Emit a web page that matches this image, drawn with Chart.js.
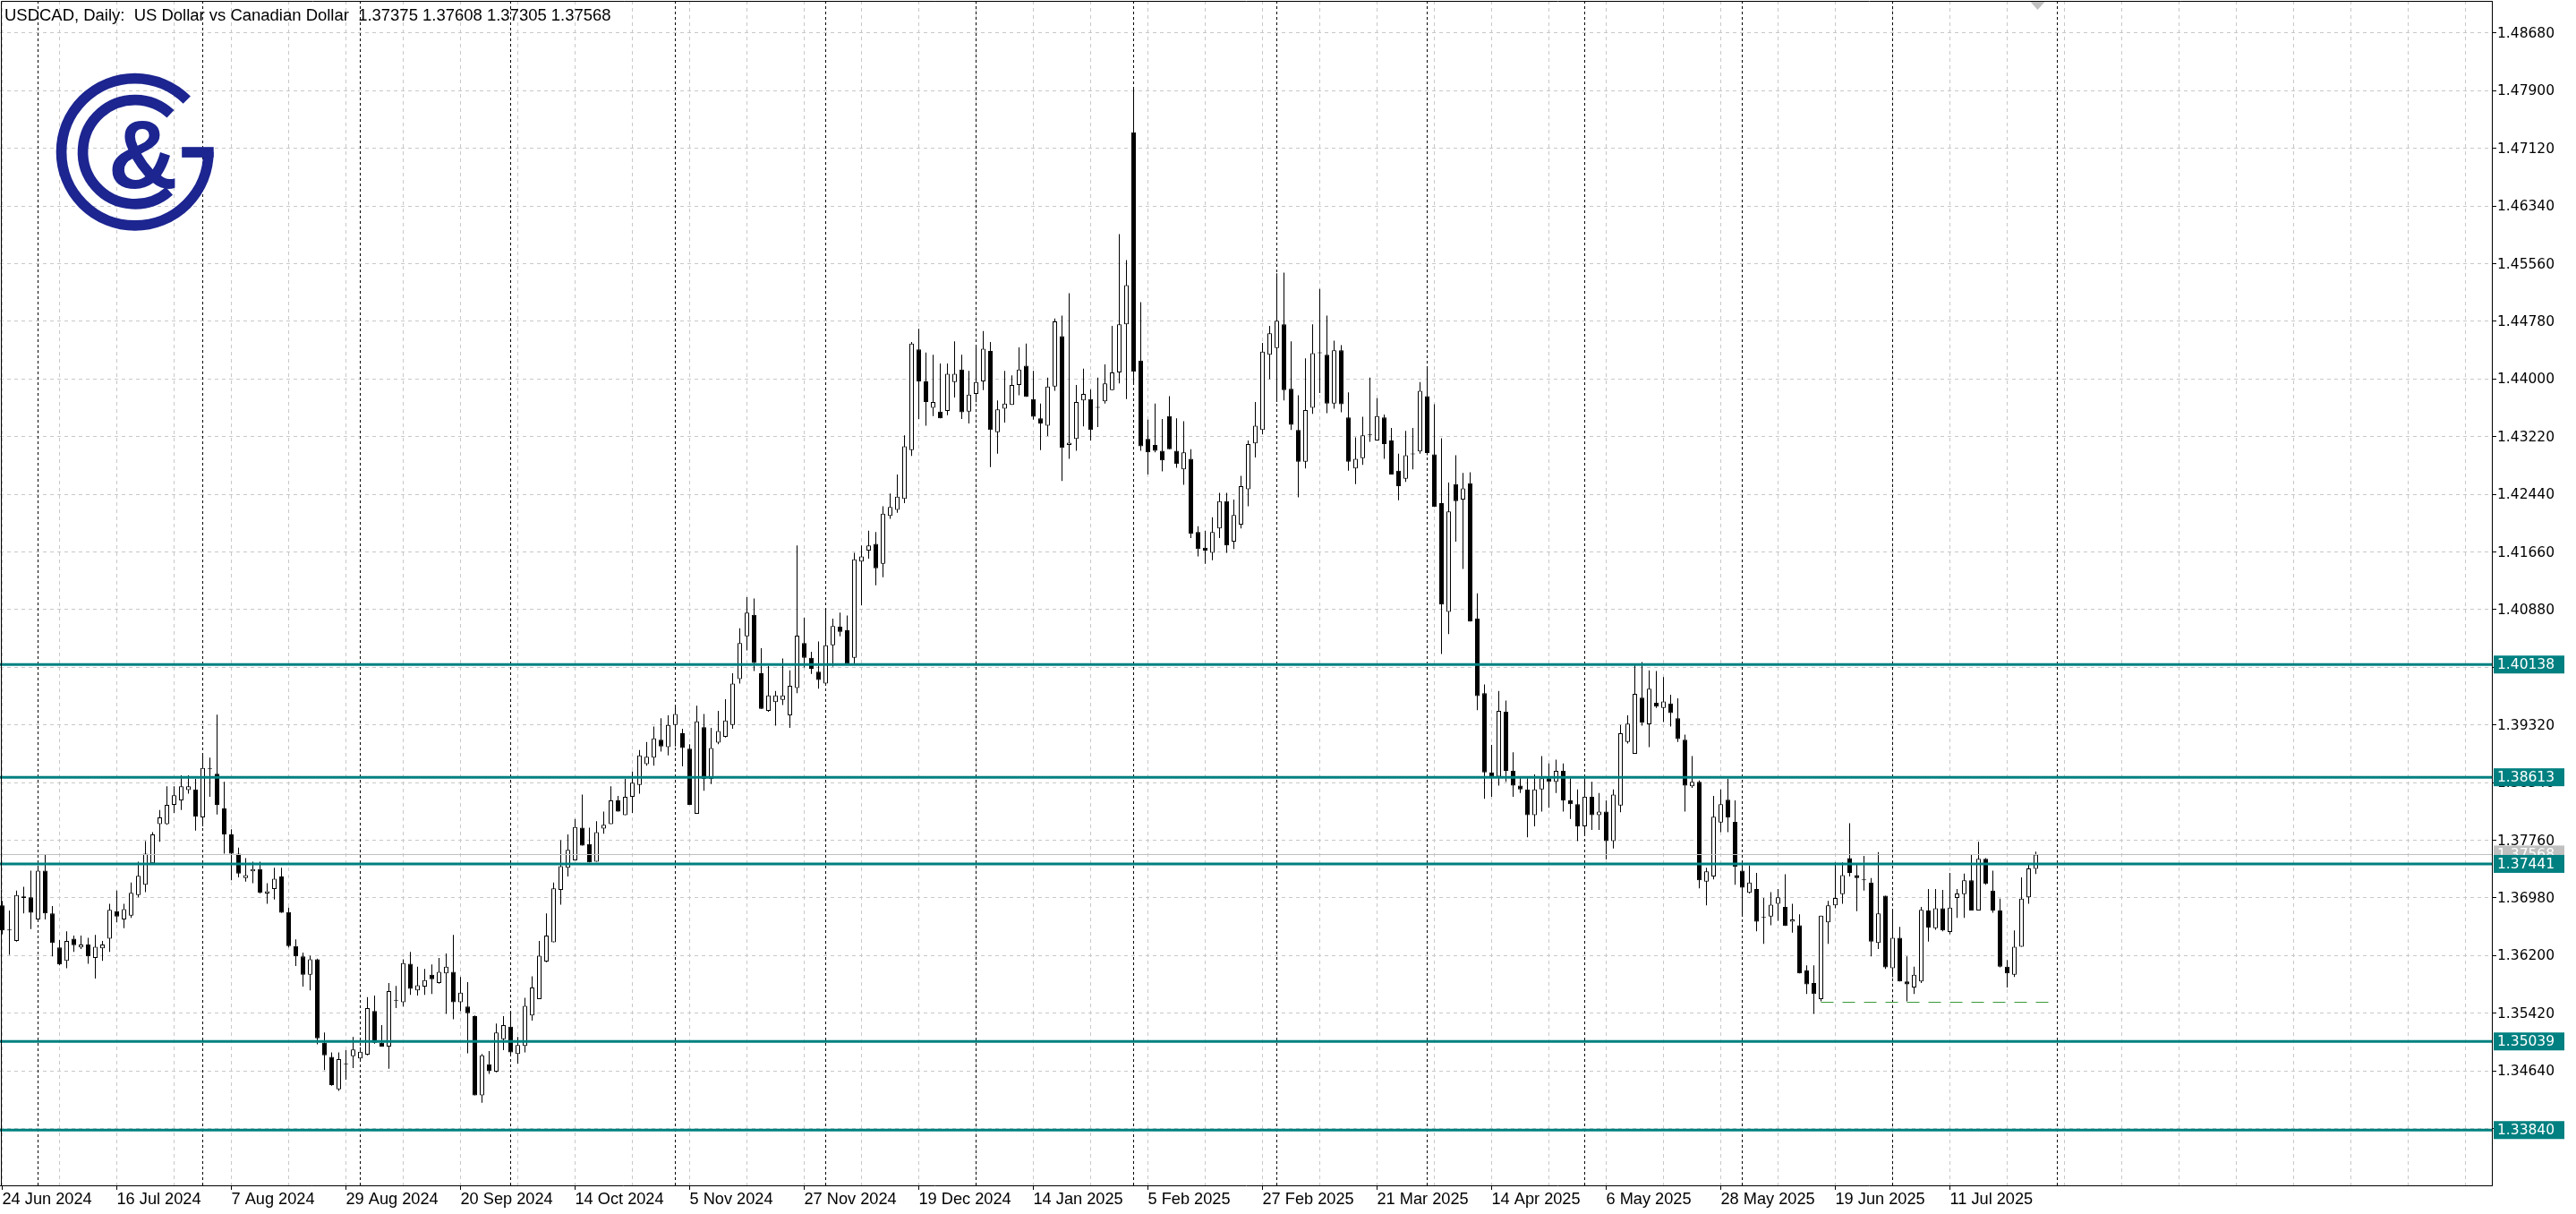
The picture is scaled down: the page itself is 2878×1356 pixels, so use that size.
<!DOCTYPE html>
<html><head><meta charset="utf-8">
<script src="https://cdn.jsdelivr.net/npm/chart.js@4.4.0/dist/chart.umd.min.js"></script>
<style>html,body{margin:0;padding:0;background:#fff;overflow:hidden}canvas{display:block}</style>
</head><body>
<canvas id="c" width="2878" height="1356"></canvas>
<script>
// ---------- DATA ----------
const symbolTitle = 'USDCAD, Daily:  US Dollar vs Canadian Dollar';
const dateLabels = ['24 Jun 2024','16 Jul 2024','7 Aug 2024','29 Aug 2024','20 Sep 2024','14 Oct 2024','5 Nov 2024','27 Nov 2024','19 Dec 2024','14 Jan 2025','5 Feb 2025','27 Feb 2025','21 Mar 2025','14 Apr 2025','6 May 2025','28 May 2025','19 Jun 2025','11 Jul 2025'];
const monthStartBars = [5,28,50,71,94,115,136,158,178,199,221,243,264,287];
const priceTicks = [1.33860,1.34640,1.35420,1.36200,1.36980,1.37760,1.38540,1.39320,1.40100,1.40880,1.41660,1.42440,1.43220,1.44000,1.44780,1.45560,1.46340,1.47120,1.47900,1.48680];
const levels = [1.40138,1.38613,1.37441,1.35039,1.33840];
const lastPrice = 1.37568;
const supportPrice = 1.35575, supportFrom = 254, supportTo = 286;

const open = [1.3688,1.3654,1.3640,1.3698,1.3699,1.3669,1.3735,1.3677,1.3631,1.3613,1.3643,1.3631,1.3635,1.3617,1.3630,1.3643,1.3680,1.3669,1.3674,1.3702,1.3716,1.3745,1.3798,1.3798,1.3824,1.3830,1.3844,1.3845,1.3807,1.3873,1.3866,1.3819,1.3784,1.3758,1.3725,1.3734,1.3737,1.3704,1.3710,1.3727,1.3679,1.3633,1.3619,1.3594,1.3615,1.3502,1.3483,1.3439,1.3473,1.3484,1.3481,1.3486,1.3545,1.3502,1.3497,1.3559,1.3557,1.3609,1.3573,1.3578,1.3594,1.3583,1.3596,1.3598,1.3557,1.3551,1.3538,1.3431,1.3473,1.3463,1.3507,1.3524,1.3487,1.3498,1.3539,1.3561,1.3612,1.3638,1.3709,1.3739,1.3749,1.3793,1.3771,1.3747,1.3792,1.3798,1.3830,1.3810,1.3835,1.3851,1.3879,1.3888,1.3912,1.3902,1.3932,1.3921,1.3900,1.3812,1.3929,1.3859,1.3908,1.3916,1.3932,1.3994,1.4052,1.4081,1.4002,1.3951,1.3963,1.3966,1.3945,1.3982,1.4043,1.4023,1.4004,1.3988,1.4040,1.4065,1.4060,1.4023,1.4153,1.4168,1.4177,1.4150,1.4215,1.4223,1.4238,1.4304,1.4440,1.4397,1.4361,1.4356,1.4357,1.4396,1.4413,1.4356,1.4380,1.4397,1.4438,1.4328,1.4360,1.4365,1.4392,1.4418,1.4373,1.4347,1.4337,1.4390,1.4458,1.4311,1.4319,1.4371,1.4373,1.4361,1.4370,1.4385,1.4409,1.4474,1.4734,1.4425,1.4319,1.4311,1.4303,1.4350,1.4303,1.4278,1.4292,1.4193,1.4172,1.4165,1.4198,1.4235,1.4180,1.4203,1.4251,1.4313,1.4331,1.4433,1.4442,1.4474,1.4387,1.4331,1.4288,1.4361,1.4435,1.4433,1.4367,1.4439,1.4348,1.4279,1.4293,1.4324,1.4317,1.4348,1.4317,1.4276,1.4265,1.4298,1.4302,1.4377,1.4298,1.4232,1.4085,1.4258,1.4237,1.4259,1.4076,1.3975,1.3868,1.3862,1.3950,1.3870,1.3850,1.3845,1.3810,1.3845,1.3860,1.3855,1.3870,1.3830,1.3825,1.3795,1.3835,1.3810,1.3815,1.3775,1.3823,1.3909,1.3893,1.3969,1.3933,1.3962,1.3955,1.3961,1.3941,1.3912,1.3849,1.3855,1.3720,1.3727,1.3800,1.3831,1.3801,1.3735,1.3705,1.3710,1.3671,1.3673,1.3690,1.3686,1.3666,1.3661,1.3600,1.3583,1.3561,1.3665,1.3688,1.3703,1.3752,1.3729,1.3723,1.3719,1.3637,1.3701,1.3603,1.3644,1.3585,1.3577,1.3585,1.3681,1.3657,1.3684,1.3652,1.3698,1.3703,1.3722,1.3681,1.3751,1.3708,1.3681,1.3605,1.3594,1.3632,1.3699,1.37375];
const high = [1.3694,1.3681,1.3708,1.3713,1.3735,1.3742,1.3756,1.3687,1.3641,1.3653,1.3647,1.3647,1.3644,1.3648,1.3640,1.3690,1.3708,1.3690,1.3719,1.3747,1.3775,1.3787,1.3817,1.3849,1.3849,1.3864,1.3864,1.3859,1.3892,1.3888,1.3946,1.3855,1.3791,1.3766,1.3752,1.3747,1.3747,1.3718,1.3739,1.3739,1.3685,1.3642,1.3624,1.3620,1.3616,1.3516,1.3489,1.3489,1.3492,1.3510,1.3496,1.3564,1.3566,1.3526,1.3583,1.3579,1.3615,1.3625,1.3605,1.3602,1.3608,1.3617,1.3623,1.3648,1.3591,1.3584,1.3539,1.3487,1.3491,1.3528,1.3538,1.3543,1.3510,1.3563,1.3592,1.3640,1.3677,1.3719,1.3776,1.3784,1.3805,1.3838,1.3793,1.3802,1.3815,1.3849,1.3836,1.3859,1.3869,1.3898,1.3909,1.3930,1.3941,1.3945,1.3958,1.3927,1.3906,1.3958,1.3947,1.3928,1.3951,1.3967,1.4002,1.4063,1.4105,1.4103,1.4036,1.4012,1.3978,1.4022,1.4006,1.4175,1.4077,1.4031,1.4045,1.4090,1.4076,1.4084,1.4080,1.4165,1.4175,1.4195,1.4193,1.4228,1.4245,1.4271,1.4324,1.4450,1.4468,1.4436,1.4433,1.4421,1.4421,1.4451,1.4433,1.4411,1.4446,1.4465,1.4450,1.4371,1.4411,1.4405,1.4443,1.4448,1.4411,1.4367,1.4402,1.4482,1.4486,1.4516,1.4392,1.4414,1.4386,1.4402,1.4420,1.4472,1.4596,1.4561,1.4795,1.4504,1.4345,1.4367,1.4346,1.4377,1.4347,1.4343,1.4305,1.4201,1.4195,1.4213,1.4246,1.4246,1.4237,1.4269,1.4317,1.4369,1.4449,1.4472,1.4543,1.4544,1.4451,1.4378,1.4428,1.4474,1.4522,1.4486,1.4452,1.4446,1.4382,1.4321,1.4349,1.4402,1.4374,1.4352,1.4334,1.4299,1.4330,1.4334,1.4396,1.4416,1.4366,1.4320,1.4260,1.4297,1.4273,1.4274,1.4110,1.3987,1.3905,1.3978,1.3965,1.3895,1.3862,1.3860,1.3865,1.3890,1.3880,1.3885,1.3880,1.3860,1.3845,1.3860,1.3855,1.3840,1.3830,1.3845,1.3932,1.3945,1.4013,1.4017,1.4006,1.4005,1.3997,1.3973,1.3968,1.3919,1.3890,1.3857,1.3739,1.3836,1.3845,1.3859,1.3830,1.3746,1.3742,1.3732,1.3698,1.3706,1.3710,1.3730,1.3690,1.3676,1.3607,1.3607,1.3674,1.3694,1.3746,1.3746,1.3799,1.3744,1.3755,1.3725,1.3760,1.3701,1.3680,1.3659,1.3619,1.3605,1.3686,1.3710,1.3710,1.3709,1.3732,1.3710,1.3731,1.3756,1.3774,1.3752,1.3735,1.3697,1.3614,1.3654,1.3726,1.3744,1.37608];
const low = [1.3649,1.3621,1.3639,1.3677,1.3656,1.3668,1.3669,1.3619,1.3607,1.3603,1.3625,1.3629,1.3609,1.3589,1.3613,1.3625,1.3665,1.3657,1.3671,1.3699,1.3706,1.3745,1.3774,1.3797,1.3813,1.3817,1.3839,1.3789,1.3795,1.3835,1.3811,1.3758,1.3722,1.3726,1.3720,1.3718,1.3704,1.3690,1.3696,1.3678,1.3631,1.3606,1.3578,1.3573,1.3500,1.3465,1.3444,1.3437,1.3452,1.3468,1.3479,1.3485,1.3501,1.3497,1.3467,1.3549,1.3551,1.3567,1.3566,1.3567,1.3568,1.3582,1.3541,1.3534,1.3545,1.3488,1.3431,1.3421,1.3460,1.3462,1.3492,1.3484,1.3474,1.3489,1.3532,1.3561,1.3611,1.3638,1.3689,1.3727,1.3749,1.3769,1.3746,1.3747,1.3785,1.3798,1.3815,1.3810,1.3813,1.3839,1.3877,1.3877,1.3896,1.3891,1.3903,1.3876,1.3824,1.3812,1.3843,1.3852,1.3906,1.3915,1.3927,1.3988,1.4033,1.4005,1.3954,1.3950,1.3931,1.3959,1.3928,1.3975,1.4010,1.4001,1.3981,1.3988,1.4011,1.4052,1.4013,1.4015,1.4094,1.4157,1.4121,1.4132,1.4211,1.4219,1.4232,1.4296,1.4346,1.4337,1.4350,1.4347,1.4351,1.4375,1.4346,1.4340,1.4369,1.4385,1.4281,1.4299,1.4341,1.4365,1.4378,1.4376,1.4345,1.4304,1.4323,1.4384,1.4262,1.4292,1.4303,1.4336,1.4317,1.4335,1.4367,1.4385,1.4394,1.4373,1.4392,1.4303,1.4271,1.4301,1.4275,1.4305,1.4280,1.4257,1.4185,1.4160,1.4150,1.4155,1.4185,1.4165,1.4170,1.4198,1.4228,1.4294,1.4325,1.4400,1.4369,1.4371,1.4331,1.4240,1.4279,1.4353,1.4381,1.4354,1.4360,1.4355,1.4276,1.4258,1.4284,1.4315,1.4317,1.4292,1.4271,1.4236,1.4261,1.4278,1.4299,1.4297,1.4227,1.4028,1.4055,1.4180,1.4143,1.4072,1.3952,1.3832,1.3835,1.3850,1.3855,1.3835,1.3840,1.3780,1.3795,1.3815,1.3820,1.3840,1.3815,1.3805,1.3775,1.3785,1.3790,1.3790,1.3750,1.3765,1.3814,1.3907,1.3893,1.3931,1.3902,1.3955,1.3936,1.3930,1.3909,1.3815,1.3847,1.3711,1.3688,1.3723,1.3787,1.3787,1.3716,1.3676,1.3704,1.3653,1.3636,1.3661,1.3667,1.3660,1.3651,1.3596,1.3568,1.3541,1.3558,1.3636,1.3684,1.3690,1.3727,1.3680,1.3708,1.3619,1.3629,1.3602,1.3591,1.3585,1.3558,1.3568,1.3583,1.3639,1.3655,1.3653,1.3649,1.3671,1.3671,1.3681,1.3681,1.3716,1.3678,1.3604,1.3577,1.3591,1.3632,1.3690,1.37305];
const close = [1.3654,1.3655,1.3702,1.3700,1.3678,1.3735,1.3677,1.3637,1.3608,1.3640,1.3634,1.3635,1.3619,1.3632,1.3635,1.3682,1.3673,1.3683,1.3705,1.3728,1.3758,1.3784,1.3807,1.3824,1.3837,1.3849,1.3849,1.3808,1.3874,1.3872,1.3824,1.3784,1.3758,1.3731,1.3729,1.3737,1.3705,1.3707,1.3724,1.3678,1.3633,1.3619,1.3594,1.3615,1.3508,1.3485,1.3445,1.3480,1.3474,1.3493,1.3490,1.3549,1.3502,1.3497,1.3572,1.3559,1.3610,1.3575,1.3580,1.3587,1.3588,1.3598,1.3605,1.3557,1.3570,1.3542,1.3431,1.3485,1.3464,1.3516,1.3526,1.3489,1.3499,1.3552,1.3577,1.3620,1.3647,1.3711,1.3741,1.3763,1.3794,1.3769,1.3746,1.3787,1.3797,1.3830,1.3815,1.3835,1.3854,1.3891,1.3889,1.3914,1.3903,1.3932,1.3947,1.3901,1.3824,1.3937,1.3859,1.3901,1.3924,1.3938,1.3988,1.4043,1.4084,1.4016,1.3954,1.3972,1.3972,1.3972,1.3985,1.4053,1.4023,1.4008,1.3993,1.4040,1.4066,1.4058,1.4015,1.4156,1.4160,1.4175,1.4144,1.4218,1.4227,1.4241,1.4309,1.4448,1.4397,1.4369,1.4369,1.4347,1.4407,1.4407,1.4355,1.4379,1.4396,1.4441,1.4331,1.4359,1.4367,1.4392,1.4413,1.4376,1.4349,1.4340,1.4390,1.4478,1.4307,1.4314,1.4369,1.4380,1.4331,1.4362,1.4394,1.4409,1.4474,1.4527,1.4410,1.4309,1.4301,1.4303,1.4290,1.4305,1.4285,1.4301,1.4191,1.4170,1.4168,1.4193,1.4235,1.4175,1.4216,1.4255,1.4312,1.4337,1.4437,1.4462,1.4479,1.4385,1.4338,1.4288,1.4358,1.4435,1.4435,1.4367,1.4439,1.4366,1.4288,1.4292,1.4324,1.4324,1.4350,1.4312,1.4271,1.4255,1.4297,1.4298,1.4384,1.4300,1.4227,1.4095,1.4221,1.4235,1.4252,1.4072,1.3971,1.3868,1.3862,1.3951,1.3870,1.3850,1.3845,1.3810,1.3845,1.3860,1.3855,1.3870,1.3830,1.3825,1.3795,1.3835,1.3810,1.3815,1.3775,1.3838,1.3921,1.3934,1.3974,1.3935,1.3981,1.3957,1.3964,1.3948,1.3913,1.3850,1.3855,1.3722,1.3734,1.3808,1.3825,1.3807,1.3740,1.3712,1.3719,1.3666,1.3672,1.3689,1.3699,1.3660,1.3669,1.3596,1.3581,1.3568,1.3674,1.3688,1.3698,1.3729,1.3732,1.3725,1.3722,1.3639,1.3677,1.3604,1.3644,1.3585,1.3581,1.3594,1.3682,1.3658,1.3684,1.3654,1.3685,1.3704,1.3722,1.3681,1.3751,1.3717,1.3681,1.3605,1.3596,1.3632,1.3697,1.3738,1.37568];

// ---------- STYLE ----------
const TEAL = '#008080', GRID = '#c8c8c8', LOGO = '#1c2590';
const PRICE_FONT = '15.5px "DejaVu Sans"';
const measureCtx = document.createElement('canvas').getContext('2d');
function fitSize(text, family, target) { measureCtx.font = '100px "' + family + '"'; return 100 * target / measureCtx.measureText(text).width; }
const X_FONT_SIZE = Math.round(fitSize(dateLabels[0], 'Liberation Sans', 100) * 10) / 10;

const barIdx = open.map((_, i) => i);
const gridBars = []; for (let v = 0; v <= 344; v += 8) gridBars.push(v);

const bodies = barIdx.map(i => ({x: i, y: [open[i], close[i]]}));
const wicks  = barIdx.map(i => ({x: i, y: [low[i], high[i]]}));
const bodyFill = barIdx.map(i => close[i] >= open[i] ? '#ffffff' : '#000000');

const bgPlugin = { id: 'bg', beforeDraw(c) { const x = c.ctx; x.save(); x.fillStyle = '#fff'; x.fillRect(0, 0, c.width, c.height); x.restore(); } };

const separators = { id: 'sep', beforeDatasetsDraw(c) {
  const {ctx, chartArea: a, scales: {x}} = c; ctx.save(); ctx.strokeStyle = '#000'; ctx.lineWidth = 1; ctx.setLineDash([3, 3]);
  monthStartBars.forEach(b => { const px = Math.round(x.getPixelForValue(b) - 0.5) + 0.5; if (px > a.right) return; ctx.beginPath(); ctx.moveTo(px, a.top); ctx.lineTo(px, a.bottom); ctx.stroke(); });
  ctx.restore(); } };

const overlays = { id: 'ovl', afterDatasetsDraw(c) {
  const {ctx, chartArea: a, scales: {x, y}} = c; ctx.save();
  ctx.strokeStyle = '#c0c0c0'; ctx.lineWidth = 1;
  let py = Math.round(y.getPixelForValue(lastPrice)) + 0.5; ctx.beginPath(); ctx.moveTo(a.left, py); ctx.lineTo(a.right, py); ctx.stroke();
  ctx.strokeStyle = '#3a9a3a'; ctx.setLineDash([14, 10]);
  py = Math.round(y.getPixelForValue(supportPrice)) + 0.5;
  ctx.beginPath(); ctx.moveTo(x.getPixelForValue(supportFrom), py); ctx.lineTo(x.getPixelForValue(supportTo), py); ctx.stroke();
  ctx.setLineDash([]);
  ctx.strokeStyle = TEAL; ctx.lineWidth = 3;
  levels.forEach(l => { const ly = y.getPixelForValue(l); ctx.beginPath(); ctx.moveTo(a.left, ly); ctx.lineTo(a.right, ly); ctx.stroke(); });
  ctx.restore(); } };

const axisBoxes = { id: 'boxes', afterDraw(c) {
  const {ctx, chartArea: a, scales: {y}} = c; ctx.save(); ctx.font = PRICE_FONT; ctx.textBaseline = 'middle'; ctx.textAlign = 'left';
  const box = (val, bg) => { const py = y.getPixelForValue(val); ctx.fillStyle = bg; ctx.fillRect(a.right + 2, py - 10, 79, 20); ctx.fillStyle = '#fff'; ctx.fillText(val.toFixed(5), a.right + 6, py + 1); };
  box(lastPrice, '#c0c0c0');
  levels.forEach(l => box(l, TEAL));
  ctx.strokeStyle = '#000'; ctx.lineWidth = 1;
  ctx.beginPath(); ctx.moveTo(1.5, a.bottom); ctx.lineTo(1.5, a.top + 0.5); ctx.lineTo(a.right, a.top + 0.5); ctx.stroke();
  const n = open.length - 1;
  const header = symbolTitle + '  ' + [open[n], high[n], low[n], close[n]].map(v => v.toFixed(5)).join(' ');
  const fs = fitSize(header, 'Liberation Sans', 678);
  ctx.font = fs.toFixed(2) + 'px "Liberation Sans"'; ctx.fillStyle = '#000'; ctx.textBaseline = 'alphabetic'; ctx.fillText(header, 5, 23);
  const sx = c.scales.x.getPixelForValue(n) + 2; ctx.fillStyle = '#c0c0c0';
  ctx.beginPath(); ctx.moveTo(sx - 8, a.top + 1); ctx.lineTo(sx + 8, a.top + 1); ctx.lineTo(sx, a.top + 10); ctx.closePath(); ctx.fill();
  const cx = 150.7, cy = 169.7; ctx.strokeStyle = LOGO; ctx.fillStyle = LOGO; ctx.lineWidth = 11.7; ctx.lineCap = 'butt';
  ctx.beginPath(); ctx.arc(cx, cy, 82.15, 0, Math.PI * 1.75); ctx.stroke();
  ctx.fillRect(cx + 52.5, cy - 5.5, 35.5, 11.7);
  ctx.beginPath(); ctx.arc(cx, cy, 58.15, Math.PI * 0.27, Math.PI * 1.74); ctx.stroke();
  ctx.font = 'bold 108px "Liberation Sans"'; ctx.textAlign = 'center'; ctx.fillText('&', cx + 9, cy + 40);
  ctx.restore(); } };

new Chart(document.getElementById('c'), {
  type: 'bar',
  data: { datasets: [
    { label: 'body', data: bodies, backgroundColor: bodyFill, borderColor: '#000', borderWidth: 1, borderSkipped: false,
      barThickness: 5, grouped: false, minBarLength: 1, inflateAmount: 0, order: 0 },
    { label: 'wick', data: wicks, backgroundColor: '#000', borderWidth: 0, barThickness: 1, grouped: false, inflateAmount: 0, order: 1 }
  ]},
  options: {
    responsive: false, animation: false, events: [],
    layout: { padding: { top: 1, left: 0, right: 0, bottom: 0 } },
    plugins: { legend: { display: false }, tooltip: { enabled: false }, title: { display: false } },
    scales: {
      x: { type: 'linear', min: -0.3125, max: 347.6875, offset: false,
        grid: { offset: false, color: GRID, lineWidth: 1, drawTicks: true, tickLength: 5, tickWidth: 1,
          tickColor: c => (c.tick && c.tick.value % 16 === 0 && c.tick.value / 16 < dateLabels.length) ? '#000' : 'rgba(0,0,0,0)' },
        border: { display: true, color: '#000', width: 1, dash: [4, 4] },
        ticks: { autoSkip: false, maxRotation: 0, minRotation: 0, align: 'start', padding: 0, color: '#000',
          font: { family: 'Liberation Sans', size: X_FONT_SIZE },
          callback: v => (v % 16 === 0 && v / 16 < dateLabels.length) ? dateLabels[v / 16] : '' },
        afterBuildTicks: s => { s.ticks = gridBars.map(v => ({ value: v })); },
        afterFit: s => { s.height = 32; s.paddingLeft = 0; s.paddingRight = 0; }
      },
      y: { type: 'linear', position: 'right', min: 1.330921, max: 1.491160,
        grid: { color: GRID, lineWidth: 1, drawTicks: true, tickLength: 5, tickColor: '#000' },
        border: { display: true, color: '#000', width: 1, dash: [4, 4] },
        ticks: { color: '#000', padding: 1, labelOffset: 1, font: { family: 'DejaVu Sans', size: 15.5 }, callback: v => v.toFixed(5) },
        afterBuildTicks: s => { s.ticks = priceTicks.map(v => ({ value: v })); },
        afterFit: s => { s.width = 94; s.paddingTop = 0; s.paddingBottom = 0; }
      }
    }
  },
  plugins: [bgPlugin, separators, overlays, axisBoxes]
});
</script>
</body></html>
